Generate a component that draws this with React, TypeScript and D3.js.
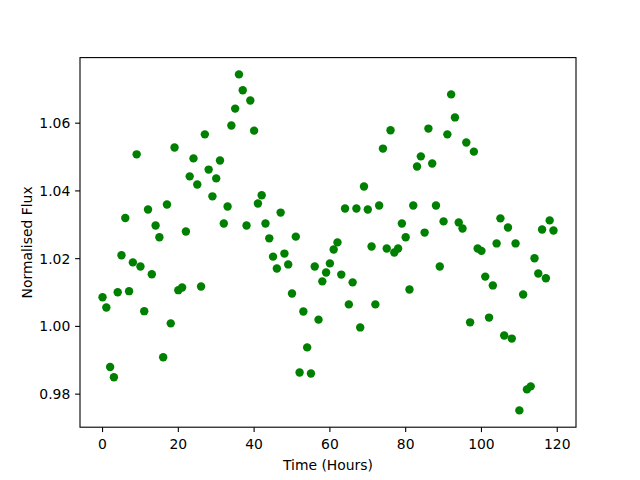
import * as d3 from "d3";
import React, { useEffect, useRef } from "react";

// hourly samples, t = 0..119
const HOURS: number[] = Array.from({ length: 120 }, (_, i) => i);

const FLUX: number[] = [
  1.0086, 1.0056, 0.9880, 0.9850, 1.0101, 1.0210, 1.0320, 1.0104, 1.0189, 1.0508,
  1.0177, 1.0045, 1.0345, 1.0154, 1.0298, 1.0263, 0.9909, 1.0360, 1.0009, 1.0528,
  1.0107, 1.0115, 1.0280, 1.0443, 1.0496, 1.0419, 1.0118, 1.0567, 1.0463, 1.0384,
  1.0437, 1.0490, 1.0304, 1.0354, 1.0593, 1.0643, 1.0744, 1.0697, 1.0298, 1.0667,
  1.0578, 1.0363, 1.0387, 1.0304, 1.0260, 1.0206, 1.0171, 1.0336, 1.0215, 1.0183,
  1.0097, 1.0265, 0.9864, 1.0044, 0.9938, 0.9861, 1.0177, 1.0020, 1.0133, 1.0159,
  1.0186, 1.0227, 1.0248, 1.0153, 1.0348, 1.0065, 1.0130, 1.0348, 0.9997, 1.0413,
  1.0345, 1.0236, 1.0065, 1.0357, 1.0525, 1.0230, 1.0579, 1.0218, 1.0230, 1.0304,
  1.0263, 1.0109, 1.0357, 1.0472, 1.0502, 1.0277, 1.0584, 1.0481, 1.0357, 1.0177,
  1.0310, 1.0567, 1.0685, 1.0617, 1.0307, 1.0289, 1.0543, 1.0012, 1.0516, 1.0230,
  1.0223, 1.0147, 1.0026, 1.0121, 1.0245, 1.0319, 0.9973, 1.0292, 0.9964, 1.0245,
  0.9752, 1.0094, 0.9814, 0.9823, 1.0201, 1.0156, 1.0286, 1.0142, 1.0313, 1.0283,
];

const X_TICKS = [0, 20, 40, 60, 80, 100, 120];
const Y_TICKS = [0.98, 1.0, 1.02, 1.04, 1.06];

const W = 640;
const H = 480;
const M = { left: 80, right: 576, top: 57.6, bottom: 427.2 };
const FONT = "DejaVu Sans, sans-serif";

export default function App() {
  const svgRef = useRef<SVGSVGElement | null>(null);

  useEffect(() => {
    document.body.style.margin = "0";
    const svg = d3.select(svgRef.current);
    svg.selectAll("*").remove();

    // matplotlib-like 5% margins
    const [x0, x1] = d3.extent(HOURS) as [number, number];
    const [y0, y1] = d3.extent(FLUX) as [number, number];
    const xm = (x1 - x0) * 0.05;
    const ym = (y1 - y0) * 0.05;

    const x = d3.scaleLinear().domain([x0 - xm, x1 + xm]).range([M.left, M.right]);
    const y = d3.scaleLinear().domain([y0 - ym, y1 + ym]).range([M.bottom, M.top]);

    svg.append("rect")
      .attr("width", W).attr("height", H).attr("fill", "white");

    // points
    svg.append("g")
      .selectAll("circle")
      .data(HOURS.map((h, i) => ({ h, v: FLUX[i] })))
      .join("circle")
      .attr("cx", d => x(d.h))
      .attr("cy", d => y(d.v))
      .attr("r", 4.2)
      .attr("fill", "#008000");

    // frame
    svg.append("rect")
      .attr("x", M.left).attr("y", M.top)
      .attr("width", M.right - M.left).attr("height", M.bottom - M.top)
      .attr("fill", "none").attr("stroke", "black").attr("stroke-width", 1.1);

    // x ticks
    const gx = svg.append("g");
    gx.selectAll("line")
      .data(X_TICKS)
      .join("line")
      .attr("x1", d => x(d)).attr("x2", d => x(d))
      .attr("y1", M.bottom).attr("y2", M.bottom + 4.9)
      .attr("stroke", "black").attr("stroke-width", 1.1);
    gx.selectAll("text")
      .data(X_TICKS)
      .join("text")
      .attr("x", d => x(d))
      .attr("y", 449)
      .attr("text-anchor", "middle")
      .attr("font-family", FONT)
      .attr("font-size", 13.9)
      .text(d => String(d));

    // y ticks
    const gy = svg.append("g");
    gy.selectAll("line")
      .data(Y_TICKS)
      .join("line")
      .attr("x1", M.left - 4.9).attr("x2", M.left)
      .attr("y1", d => y(d)).attr("y2", d => y(d))
      .attr("stroke", "black").attr("stroke-width", 1.1);
    gy.selectAll("text")
      .data(Y_TICKS)
      .join("text")
      .attr("x", 70.3)
      .attr("y", d => y(d) + 5)
      .attr("text-anchor", "end")
      .attr("font-family", FONT)
      .attr("font-size", 13.9)
      .text(d => d.toFixed(2));

    // axis labels
    svg.append("text")
      .attr("x", (M.left + M.right) / 2)
      .attr("y", 470)
      .attr("text-anchor", "middle")
      .attr("font-family", FONT)
      .attr("font-size", 13.9)
      .text("Time (Hours)");

    svg.append("text")
      .attr("transform", `translate(31.5,${(M.top + M.bottom) / 2}) rotate(-90)`)
      .attr("text-anchor", "middle")
      .attr("font-family", FONT)
      .attr("font-size", 13.9)
      .text("Normalised Flux");
  }, []);

  return <svg ref={svgRef} width={W} height={H} style={{ display: "block" }} />;
}
